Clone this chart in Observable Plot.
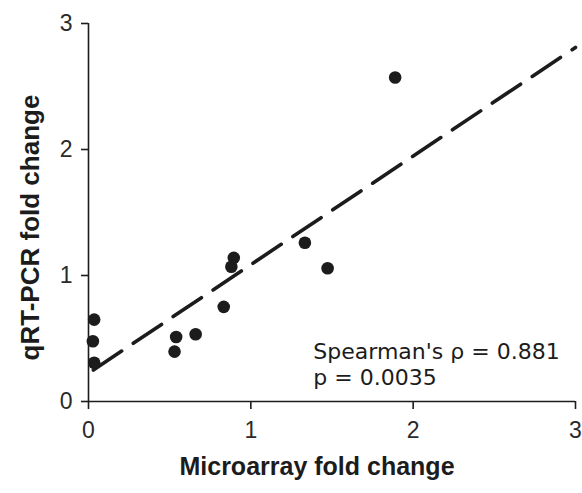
<!DOCTYPE html>
<html>
<head>
<meta charset="utf-8">
<script src="https://cdn.jsdelivr.net/npm/d3@7"></script>
<script src="https://cdn.jsdelivr.net/npm/@observablehq/plot@0.6"></script>
<style>
  html, body { margin: 0; padding: 0; background: #fff; }
  #chart { width: 582px; height: 493px; }
</style>
</head>
<body>
<div id="chart"></div>
<script>
// Microarray fold change (x) vs qRT-PCR fold change (y)
const microarray = [0.035, 0.027, 0.035, 0.54, 0.53, 0.66, 0.833, 0.88, 0.895, 1.333, 1.473, 1.889];
const qrtpcr     = [0.65, 0.478, 0.308, 0.512, 0.396, 0.534, 0.751, 1.07, 1.14, 1.26, 1.057, 2.571];

// Regression (dashed) line end points
const fitX = [0.03, 3.0];
const fitY = [0.25, 2.81];

const ticks = [0, 1, 2, 3];
const xTitle = "Microarray fold change";
const yTitle = "qRT-PCR fold change";
const statsLines = ["Spearman's \u03c1 = 0.881", "p = 0.0035"];
const statsX = [1.385, 1.385];
const statsY = [0.39, 0.19];

const points = microarray.map((x, i) => ({x, y: qrtpcr[i]}));
const fit = fitX.map((x, i) => ({x, y: fitY[i]}));
const stats = statsLines.map((t, i) => ({t, x: statsX[i], y: statsY[i]}));

const ink = "#1c1c1c";

const chart = Plot.plot({
  width: 582,
  height: 493,
  marginLeft: 88,
  marginRight: 7,
  marginTop: 23,
  marginBottom: 92,
  style: {fontFamily: "'Liberation Sans', Arial, sans-serif", fontSize: "23px", background: "#fff", color: ink},
  x: {domain: [0, 3]},
  y: {domain: [0, 3]},
  marks: [
    Plot.ruleY([0], {stroke: ink, strokeWidth: 1.6}),
    Plot.ruleX([0], {stroke: ink, strokeWidth: 1.6}),
    Plot.axisX({ticks, tickSize: 8, tickPadding: 12, label: null, stroke: ink, strokeWidth: 1.6, fill: "#2a2a2a", tickFormat: d3.format("d")}),
    Plot.axisY({ticks, tickSize: 7, tickPadding: 9, label: null, stroke: ink, strokeWidth: 1.6, fill: "#2a2a2a", tickFormat: d3.format("d")}),
    Plot.line(fit, {x: "x", y: "y", stroke: ink, strokeWidth: 3.6, strokeDasharray: "34,14"}),
    Plot.dot(points, {x: "x", y: "y", r: 6.3, fill: ink, stroke: "none"}),
    Plot.text(stats, {x: "x", y: "y", text: "t", textAnchor: "start", fontSize: 22, fontFamily: "'DejaVu Sans', Verdana, sans-serif", fill: ink}),
    Plot.text([xTitle], {frameAnchor: "bottom", dx: -15, dy: 73, fontSize: 25, fontWeight: "bold", fill: ink}),
    Plot.text([yTitle], {frameAnchor: "left", dx: -58, dy: 15, rotate: -90, textAnchor: "middle", fontSize: 26, fontWeight: "bold", fill: ink})
  ]
});
document.getElementById("chart").appendChild(chart);
</script>
</body>
</html>
